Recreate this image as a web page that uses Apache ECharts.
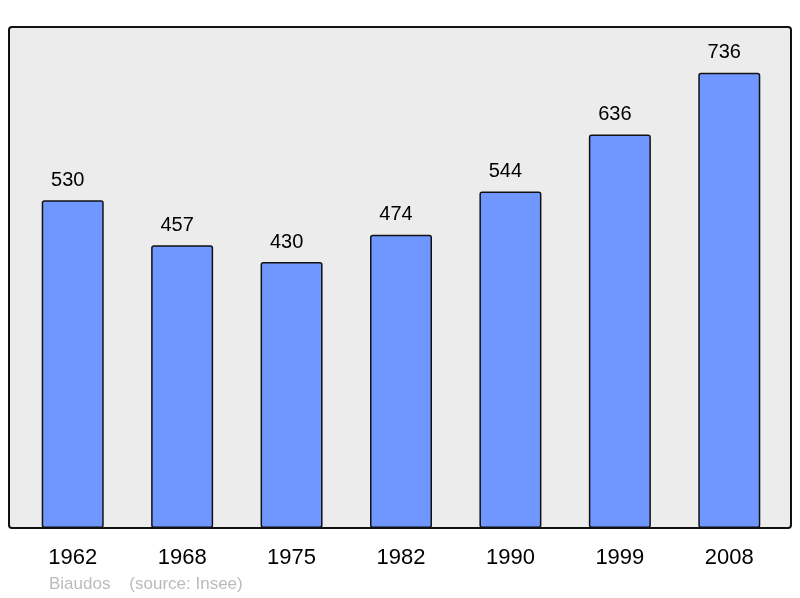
<!DOCTYPE html>
<html>
<head>
<meta charset="utf-8">
<script src="https://cdn.jsdelivr.net/npm/echarts@6/dist/echarts.min.js"></script>
<style>
  html, body { margin: 0; padding: 0; background: #fff; }
  #main { width: 800px; height: 598px; }
</style>
</head>
<body>
<div id="main"></div>
<script>
var years = ['1962', '1968', '1975', '1982', '1990', '1999', '2008'];
var population = [530, 457, 430, 474, 544, 636, 736];
var sourceText = 'Biaudos    (source: Insee)';

var myChart = echarts.init(document.getElementById('main'));

var option = {
    animation: false,
    textStyle: { fontFamily: 'Liberation Sans, Arial, sans-serif' },
    graphic: [
        {
            type: 'rect',
            z: -10,
            shape: { x: 9, y: 27, width: 782, height: 501, r: 3 },
            style: { fill: '#ececec', stroke: '#111', lineWidth: 2 }
        },
        {
            type: 'text',
            left: 49,
            top: 576,
            style: { text: sourceText, fill: '#bbbbbb', font: '17px Liberation Sans, Arial, sans-serif' }
        }
    ],
    grid: { left: 18, right: 16, top: 27, bottom: 70 },
    xAxis: {
        type: 'category',
        data: years,
        axisLine: { show: false },
        axisTick: { show: false },
        axisLabel: { color: '#000', fontSize: 22, margin: 19 }
    },
    yAxis: {
        type: 'value',
        min: 0,
        max: 810,
        show: false,
        splitLine: { show: false }
    },
    series: [{
        type: 'bar',
        data: population,
        barWidth: 62,
        itemStyle: {
            color: '#7097ff',
            borderColor: '#111',
            borderWidth: 1.5,
            borderRadius: 2
        },
        label: {
            show: true,
            position: 'top',
            distance: 10,
            offset: [-5, 0],
            color: '#000',
            fontSize: 20
        }
    }]
};

myChart.setOption(option);
</script>
</body>
</html>
